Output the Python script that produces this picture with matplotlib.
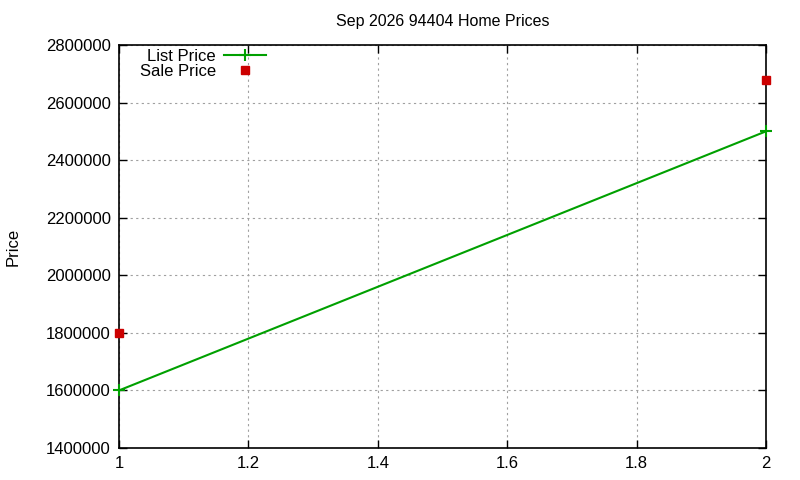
import matplotlib
matplotlib.use("Agg")
import matplotlib.pyplot as plt
from matplotlib.ticker import FormatStrFormatter, MultipleLocator

plt.rcParams['font.family'] = ['Liberation Sans', 'DejaVu Sans']

# data
x_vals = [1, 2]
list_price = [1600000, 2500000]
sale_price = [1800000, 2680000]
title = "Sep 2026 94404 Home Prices"

fig = plt.figure(figsize=(8, 4.8), dpi=100, facecolor='w')
ax = fig.add_axes([0.14875, 0.0667, 0.80875, 0.8396])

ax.plot(x_vals, list_price, color='#00a000', lw=1.5, marker='+', ms=9, mew=1.5,
        label='List Price', clip_on=False, zorder=4)
ax.plot(x_vals, sale_price, color='#cc0000', ls='none', marker='s', ms=6,
        label='Sale Price', clip_on=False, zorder=5)

ax.set_xlim(1, 2)
ax.set_ylim(1400000, 2800000)
ax.xaxis.set_major_locator(MultipleLocator(0.2))
ax.yaxis.set_major_locator(MultipleLocator(200000))
ax.xaxis.set_major_formatter(FormatStrFormatter('%g'))
ax.yaxis.set_major_formatter(FormatStrFormatter('%d'))
ax.tick_params(direction='in', length=6, width=1, labelsize=12,
               top=True, right=True, pad=6)
ax.grid(True, color='#a0a0a0', ls=(0, (2, 3)), lw=0.8)
for s in ax.spines.values():
    s.set_linewidth(1.2)

ax.set_title(title, fontsize=11.5, pad=14)
ax.set_ylabel('Price', fontsize=12)
ax.yaxis.set_label_coords(-0.152, 0.5)

ax.legend(loc='upper left', bbox_to_anchor=(0.017, 1.015), frameon=False,
          markerfirst=False, fontsize=12, handlelength=2.5,
          labelspacing=0.0, borderaxespad=0.2, handletextpad=0.5)

plt.savefig('out.png', dpi=100)
